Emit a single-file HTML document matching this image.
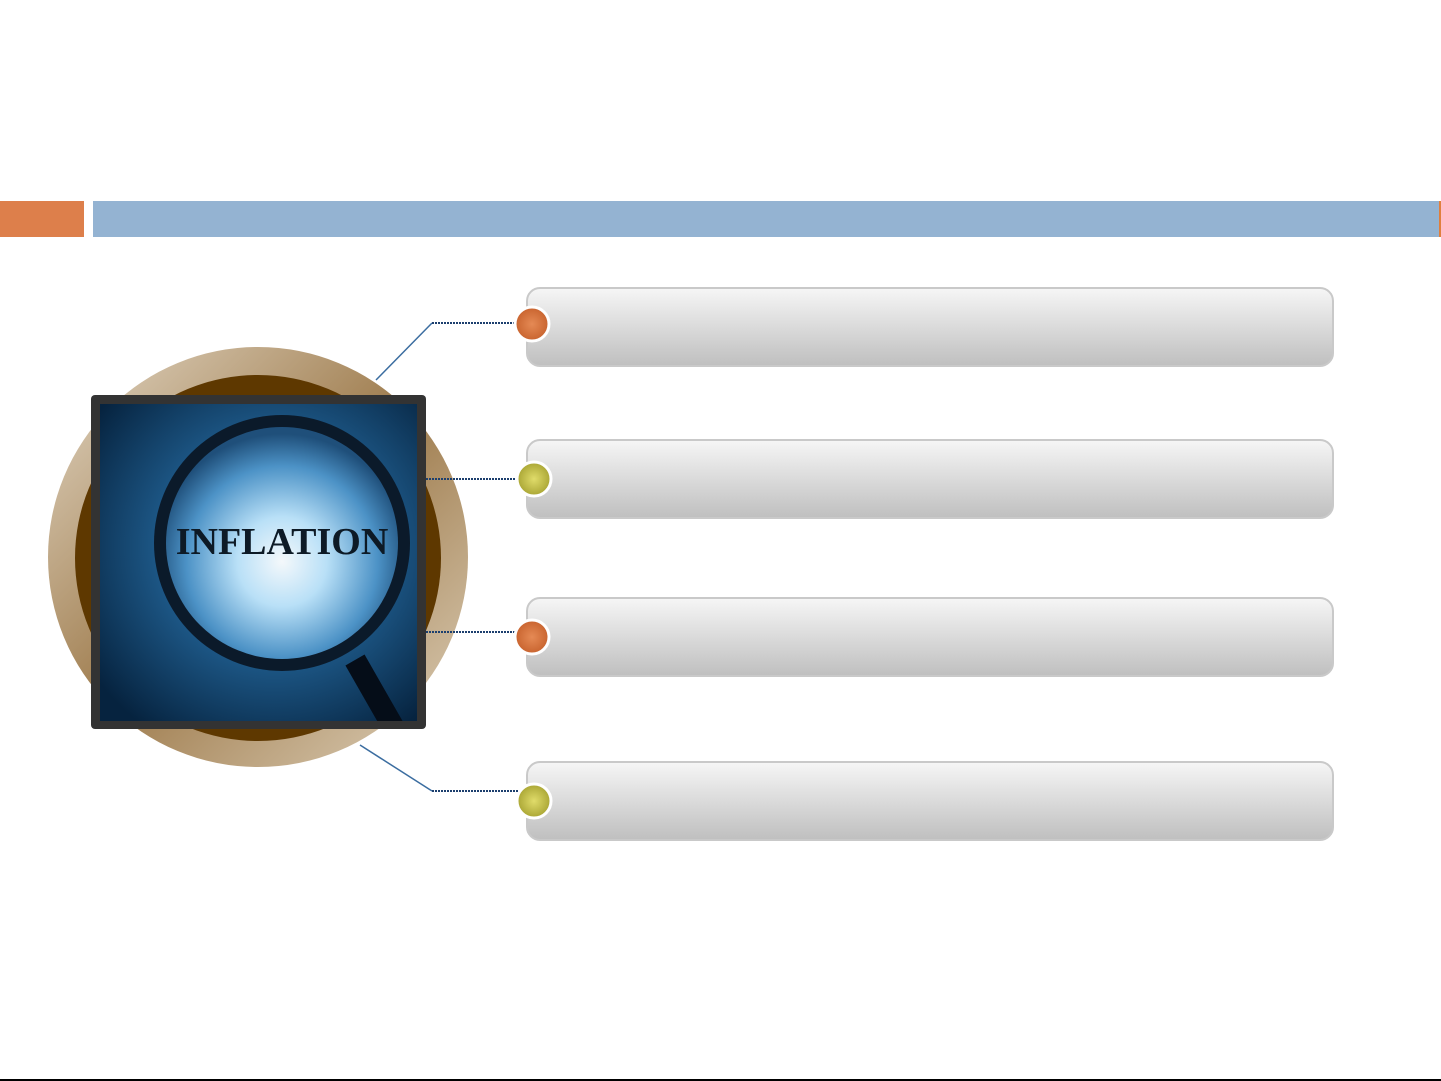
<!DOCTYPE html>
<html><head><meta charset="utf-8"><style>
html,body{margin:0;padding:0;background:#fff;}
body{width:1441px;height:1081px;overflow:hidden;position:relative;font-family:"Liberation Sans",sans-serif;}
</style></head><body>
<svg width="1441" height="1081" viewBox="0 0 1441 1081" xmlns="http://www.w3.org/2000/svg" style="position:absolute;left:0;top:0">
<defs>
<linearGradient id="box" x1="0" y1="0" x2="0" y2="1">
<stop offset="0" stop-color="#f6f6f6"/><stop offset="1" stop-color="#bfbfbf"/></linearGradient>
<radialGradient id="or" cx="0.5" cy="0.5" r="0.5"><stop offset="0" stop-color="#e58a55"/><stop offset="1" stop-color="#c8632e"/></radialGradient>
<radialGradient id="ye" cx="0.5" cy="0.5" r="0.5"><stop offset="0" stop-color="#e0dc6a"/><stop offset="1" stop-color="#a9a534"/></radialGradient>
<linearGradient id="ring" x1="0" y1="0" x2="1" y2="1">
<stop offset="0" stop-color="#e3d8c6"/><stop offset="0.5" stop-color="#9e7b4c"/><stop offset="1" stop-color="#e0d3bd"/></linearGradient>
<radialGradient id="bg" cx="0.55" cy="0.45" r="0.7"><stop offset="0" stop-color="#7fb6e0"/><stop offset="0.5" stop-color="#1e5a8a"/><stop offset="1" stop-color="#06233f"/></radialGradient>
<radialGradient id="lens" cx="0.5" cy="0.58" r="0.55"><stop offset="0" stop-color="#f4f8fb"/><stop offset="0.35" stop-color="#b9e0f7"/><stop offset="0.75" stop-color="#4c92c6"/><stop offset="1" stop-color="#1f4f7a"/></radialGradient>
<clipPath id="pc"><rect x="100" y="404" width="317" height="317"/></clipPath>
</defs>
<rect x="0" y="201" width="84" height="36" fill="#dd7f4b"/>
<rect x="93" y="201" width="1346" height="36" fill="#94b3d2"/>
<rect x="1439" y="201" width="2" height="36" fill="#e07f3d"/>

<circle cx="258" cy="557" r="210" fill="url(#ring)"/>
<circle cx="258" cy="558" r="183" fill="#5e3800"/>

<line x1="376" y1="380" x2="432" y2="323" stroke="#3b6da0" stroke-width="1.5"/>
<line x1="432" y1="323" x2="522" y2="323" stroke="#1c3f6e" stroke-width="2" stroke-dasharray="2,1"/>
<line x1="360" y1="745" x2="432" y2="791" stroke="#3b6da0" stroke-width="1.5"/>
<line x1="432" y1="791" x2="522" y2="791" stroke="#1c3f6e" stroke-width="2" stroke-dasharray="2,1"/>
<line x1="426" y1="479" x2="522" y2="479" stroke="#1c3f6e" stroke-width="2" stroke-dasharray="2,1"/>
<line x1="426" y1="632" x2="522" y2="632" stroke="#1c3f6e" stroke-width="2" stroke-dasharray="2,1"/>

<rect x="91" y="395" width="335" height="334" rx="4" fill="#333"/>
<g clip-path="url(#pc)">
<rect x="100" y="404" width="317" height="317" fill="url(#bg)"/>
<line x1="355" y1="660" x2="395" y2="730" stroke="#050d18" stroke-width="22"/>
<circle cx="282" cy="543" r="128" fill="#0b1a2a"/>
<circle cx="282" cy="543" r="116" fill="url(#lens)"/>
<text x="282" y="554" text-anchor="middle" font-family="Liberation Serif,serif" font-weight="bold" font-size="38" fill="#0d1a26">INFLATION</text>
</g>

<g stroke="#c9c9c9" stroke-width="2" fill="url(#box)">
<rect x="527" y="288" width="806" height="78" rx="13"/>
<rect x="527" y="440" width="806" height="78" rx="13"/>
<rect x="527" y="598" width="806" height="78" rx="13"/>
<rect x="527" y="762" width="806" height="78" rx="13"/>
</g>
<g stroke="#fff" stroke-width="3">
<circle cx="532" cy="324" r="17" fill="url(#or)"/>
<circle cx="534" cy="479" r="17" fill="url(#ye)"/>
<circle cx="532" cy="637" r="17" fill="url(#or)"/>
<circle cx="534" cy="801" r="17" fill="url(#ye)"/>
</g>
<rect x="0" y="1079" width="1441" height="2" fill="#000"/>
</svg>
</body></html>
